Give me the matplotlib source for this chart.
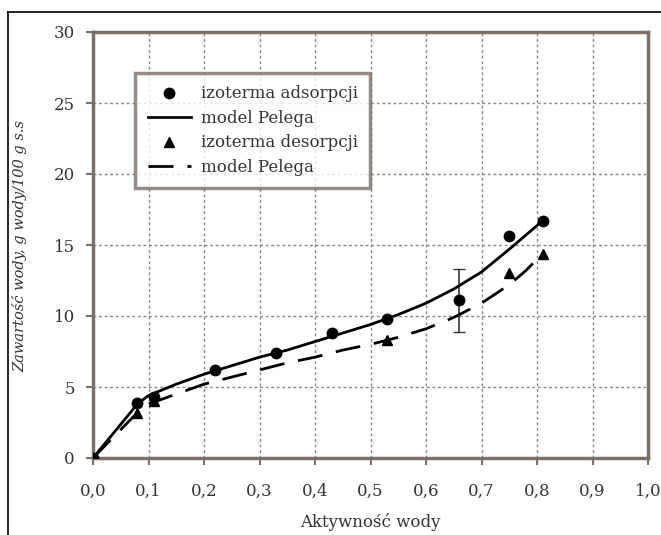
import matplotlib
matplotlib.use('Agg')
import matplotlib.pyplot as plt
from matplotlib.lines import Line2D

# punkty pomiarowe - izoterma adsorpcji
aw_ads = [0.0, 0.08, 0.11, 0.22, 0.33, 0.43, 0.53, 0.66, 0.75, 0.81]
m_ads = [0.0, 3.9, 4.3, 6.2, 7.4, 8.8, 9.8, 11.1, 15.6, 16.7]

# odchylenie tylko dla jednego punktu
aw_err = [0.66]
m_err = [11.1]
err = [2.2]

# punkty pomiarowe - izoterma desorpcji
aw_des = [0.08, 0.11, 0.53, 0.75, 0.81]
m_des = [3.2, 4.0, 8.3, 13.0, 14.4]

# model Pelega
aw_mod_ads = [0.0, 0.08, 0.1, 0.15, 0.2, 0.25, 0.3, 0.35, 0.4, 0.45, 0.5, 0.55, 0.6, 0.65, 0.7, 0.75, 0.81]
m_mod_ads = [0.0, 3.8, 4.4, 5.2, 5.9, 6.5, 7.1, 7.6, 8.2, 8.8, 9.4, 10.1, 10.9, 11.9, 13.1, 14.7, 16.7]

aw_mod_des = [0.0, 0.08, 0.1, 0.15, 0.2, 0.25, 0.3, 0.35, 0.4, 0.45, 0.5, 0.55, 0.6, 0.65, 0.7, 0.75, 0.78, 0.81]
m_mod_des = [0.0, 3.2, 3.8, 4.5, 5.2, 5.7, 6.2, 6.7, 7.1, 7.6, 8.0, 8.5, 9.1, 9.9, 10.9, 12.2, 13.2, 14.4]

x_ticks = [0.0, 0.1, 0.2, 0.3, 0.4, 0.5, 0.6, 0.7, 0.8, 0.9, 1.0]
y_ticks = [0, 5, 10, 15, 20, 25, 30]

plt.rcParams['font.family'] = ['DejaVu Serif']

fig = plt.figure(figsize=(6.61, 5.35), dpi=100)
ax = fig.add_axes([93 / 661, 77 / 535, 555 / 661, 426 / 535])

spine_col = '#7a7068'
grid_col = '#8a8480'
text_col = '#333333'

ax.plot(aw_mod_ads, m_mod_ads, color='black', lw=2.0, label='model Pelega', zorder=3)
ax.plot(aw_ads, m_ads, 'o', color='black', ms=7.5, label='izoterma adsorpcji', zorder=4)
ax.plot(aw_mod_des, m_mod_des, color='black', lw=2.0, ls=(0, (9, 5)), label='model Pelega ', zorder=3)
ax.plot(aw_des, m_des, '^', color='black', ms=7.5, label='izoterma desorpcji', zorder=4)
ax.errorbar(aw_err, m_err, yerr=err, fmt='none', ecolor='#333333', elinewidth=1.2,
            capsize=4, zorder=2)

ax.set_xlim(0, 1.0)
ax.set_ylim(0, 30)
ax.set_xticks(x_ticks)
ax.set_yticks(y_ticks)
ax.set_xticklabels([f'{v:.1f}'.replace('.', ',') for v in x_ticks])
ax.set_yticklabels([str(v) for v in y_ticks])

ax.grid(True, color=grid_col, ls=(0, (2, 2)), lw=1.0)
ax.set_axisbelow(True)
for s in ax.spines.values():
    s.set_color(spine_col)
    s.set_linewidth(2.5)
ax.tick_params(direction='out', length=5, width=1.5, color=spine_col,
               labelsize=12, labelcolor=text_col)
ax.tick_params(axis='x', pad=13)
ax.tick_params(axis='y', pad=8)

handles, labels = ax.get_legend_handles_labels()
order = [1, 0, 3, 2]
leg = ax.legend([handles[i] for i in order], [labels[i] for i in order],
                loc='upper left', bbox_to_anchor=(0.0757, 0.904), borderaxespad=0,
                fontsize=12, frameon=True, fancybox=False, edgecolor=spine_col,
                borderpad=0.75, labelspacing=0.45, handlelength=2.6, handletextpad=0.6)
leg.get_frame().set_linewidth(2.5)
for t in leg.get_texts():
    t.set_color(text_col)

fig.text(370 / 661, 1 - 522 / 535, 'Aktywność wody', ha='center', va='center',
         fontsize=12, color=text_col)
fig.text(20 / 661, 1 - 246 / 535, 'Zawartość wody, g wody/100 g s.s', rotation=90,
         ha='center', va='center', fontsize=10.5, style='italic', color=text_col)

# ramka wokół rysunku
fig.add_artist(Line2D([8 / 661, 1.0], [1 - 12 / 535] * 2, color='black', lw=1.2))
fig.add_artist(Line2D([8 / 661] * 2, [0, 1 - 12 / 535], color='black', lw=1.2))

fig.savefig('out.png', dpi=100)
